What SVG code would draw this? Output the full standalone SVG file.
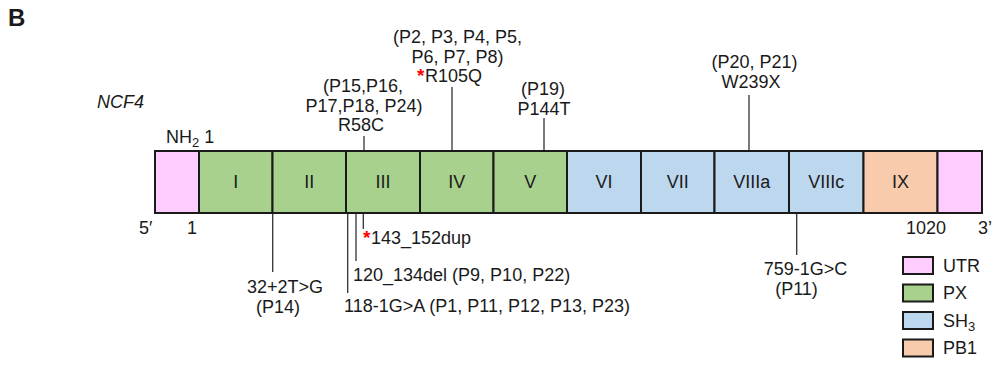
<svg xmlns="http://www.w3.org/2000/svg" width="995" height="367" viewBox="0 0 995 367">
<style>
text{font-family:"Liberation Sans",Arial,sans-serif;font-size:18px;fill:#1a1a1a}
.c{text-anchor:middle}
.box{stroke:#1a1a1a;stroke-width:2}
.utr{fill:#FFCCFF}.px{fill:#A9D18E}.sh3{fill:#BDD7EE}.pb1{fill:#F8CBAD}
.ln{stroke:#333;stroke-width:1.3;fill:none}
.star{fill:#FF0000;font-weight:bold;font-size:19px}
</style>
<rect width="995" height="367" fill="#fff"/>
<text x="8" y="26" style="font-weight:bold;font-size:24px">B</text>
<text x="97" y="108" style="font-style:italic">NCF4</text>
<text x="166" y="143">NH<tspan dy="4" font-size="13">2</tspan><tspan dy="-4"> 1</tspan></text>
<g id="gene">
<rect id="utr5" class="box utr" x="155" y="151" width="44" height="62"/>
<g id="ex1"><rect class="box px" x="199" y="151" width="73.5" height="62"/><text class="c" x="235.7" y="188">I</text></g>
<g id="ex2"><rect class="box px" x="272.5" y="151" width="73.5" height="62"/><text class="c" x="309.2" y="188">II</text></g>
<g id="ex3"><rect class="box px" x="346" y="151" width="74" height="62"/><text class="c" x="383" y="188">III</text></g>
<g id="ex4"><rect class="box px" x="420" y="151" width="73.5" height="62"/><text class="c" x="456.7" y="188">IV</text></g>
<g id="ex5"><rect class="box px" x="493.5" y="151" width="73.5" height="62"/><text class="c" x="530.2" y="188">V</text></g>
<g id="ex6"><rect class="box sh3" x="567" y="151" width="74" height="62"/><text class="c" x="604" y="188">VI</text></g>
<g id="ex7"><rect class="box sh3" x="641" y="151" width="73.5" height="62"/><text class="c" x="677.7" y="188">VII</text></g>
<g id="ex8a"><rect class="box sh3" x="714.5" y="151" width="74.5" height="62"/><text class="c" x="751.7" y="188">VIIIa</text></g>
<g id="ex8c"><rect class="box sh3" x="789" y="151" width="74.5" height="62"/><text class="c" x="826.2" y="188">VIIIc</text></g>
<g id="ex9"><rect class="box pb1" x="863.5" y="151" width="74" height="62"/><text class="c" x="900.5" y="188">IX</text></g>
<rect id="utr3" class="box utr" x="937.5" y="151" width="44.5" height="62"/>
</g>
<text x="139" y="234">5′</text>
<text x="187" y="234">1</text>
<text x="906" y="234">1020</text>
<text x="978" y="234">3’</text>
<g id="connectors">
<line class="ln" x1="364" y1="136" x2="364" y2="150"/>
<line class="ln" x1="452" y1="87" x2="452" y2="150"/>
<line class="ln" x1="544" y1="118" x2="544" y2="150"/>
<line class="ln" x1="749" y1="95" x2="749" y2="150"/>
<line class="ln" x1="272.7" y1="214" x2="272.7" y2="272"/>
<line class="ln" x1="347.7" y1="214" x2="347.7" y2="293"/>
<line class="ln" x1="356" y1="214" x2="356" y2="261"/>
<line class="ln" x1="363.3" y1="214" x2="363.3" y2="229"/>
<line class="ln" x1="796.7" y1="214" x2="796.7" y2="255"/>
</g>
<g id="labels-top">
<text class="c" x="363" y="92">(P15,P16,</text>
<text class="c" x="364" y="112">P17,P18, P24)</text>
<text class="c" x="361" y="131">R58C</text>
<text class="c" x="457.5" y="43">(P2, P3, P4, P5,</text>
<text class="c" x="457.5" y="63">P6, P7, P8)</text>
<text x="417" y="82"><tspan class="star">*</tspan><tspan dx="0.5">R105Q</tspan></text>
<text class="c" x="543" y="95">(P19)</text>
<text class="c" x="544" y="115">P144T</text>
<text class="c" x="754.5" y="68">(P20, P21)</text>
<text class="c" x="751" y="88">W239X</text>
</g>
<g id="labels-bottom">
<text x="363" y="244"><tspan class="star">*</tspan><tspan dx="0.5">143_152dup</tspan></text>
<text x="353" y="281">120_134del (P9, P10, P22)</text>
<text x="344" y="312">118-1G&gt;A (P1, P11, P12, P13, P23)</text>
<text x="247" y="293">32+2T&gt;G</text>
<text x="256" y="313">(P14)</text>
<text class="c" x="805.5" y="275">759-1G&gt;C</text>
<text class="c" x="796.5" y="295">(P11)</text>
</g>
<g id="legend">
<g id="leg-utr"><rect class="box utr" x="903" y="257" width="30" height="17"/><text x="943" y="272">UTR</text></g>
<g id="leg-px"><rect class="box px" x="903" y="284.5" width="30" height="17"/><text x="943" y="299">PX</text></g>
<g id="leg-sh3"><rect class="box sh3" x="903" y="312" width="30" height="17"/><text x="943" y="327">SH<tspan dy="4" font-size="13">3</tspan></text></g>
<g id="leg-pb1"><rect class="box pb1" x="903" y="339.5" width="30" height="17"/><text x="943" y="354">PB1</text></g>
</g>
</svg>
